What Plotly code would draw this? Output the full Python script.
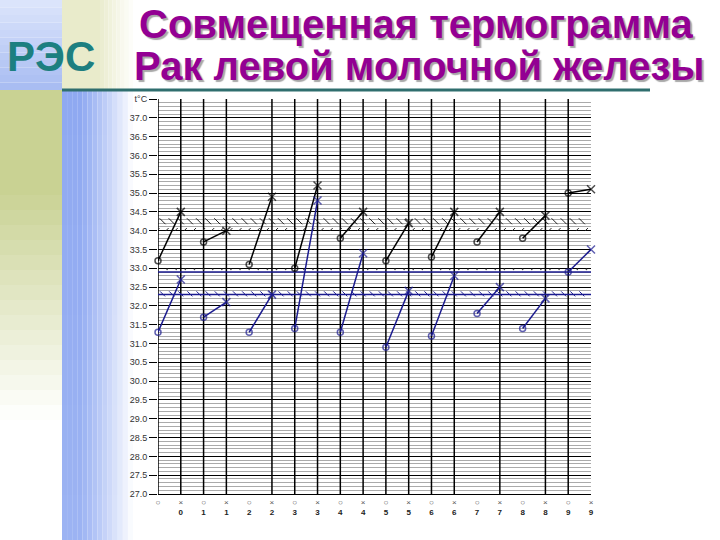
import plotly.graph_objects as go
import numpy as np

# ---------------- data ----------------
pair_labels = ["0", "1", "2", "3", "4", "5", "6", "7", "8", "9"]
black_before = [33.2, 33.7, 33.1, 33.0, 33.8, 33.2, 33.3, 33.7, 33.8, 35.0]
black_after = [34.5, 34.0, 34.9, 35.2, 34.5, 34.2, 34.5, 34.5, 34.4, 35.1]
blue_before = [31.3, 31.7, 31.3, 31.4, 31.3, 30.9, 31.2, 31.8, 31.4, 32.9]
blue_after = [32.7, 32.1, 32.3, 34.8, 33.4, 32.4, 32.8, 32.5, 32.2, 33.5]

black_norm = 34.0
black_hatch = 34.25
blue_norm = 32.9
blue_hatch = 32.3

y_min, y_max = 27.0, 37.5
vgrid_cols = [0, 1, 2, 3, 5, 6, 7, 8, 9, 10, 11, 12, 13, 15, 17, 18]

title1 = "Совмещенная термограмма"
title2 = "Рак левой молочной железы"

# ---------------- layout geometry ----------------
W, H = 720, 540
L, R, T, B = 158, 591, 99, 494


def px_x(p):
    return (p - L) / (R - L)


def px_y(p):
    return (B - p) / (B - T)


BLACK = "#000000"
BLUE = "#1b1b8f"

fig = go.Figure()


def pair_series(before, after):
    xs, ys = [], []
    for i, (a, b) in enumerate(zip(before, after)):
        xs += [2 * i, 2 * i + 1, None]
        ys += [a, b, None]
    return xs, ys


def marker_symbols(before):
    syms = []
    for _ in before:
        syms += ["circle-open", "x-thin-open", "circle-open"]
    return syms


# hatch decorations on reference lines
hx = np.arange(-0.2, 19.0, 0.4)
fig.add_trace(go.Scatter(x=hx, y=[black_hatch] * len(hx), mode="markers",
                         marker=dict(symbol="line-nw-open", size=6, color="#222",
                                     line=dict(color="#222", width=1)),
                         hoverinfo="skip", showlegend=False))
fig.add_trace(go.Scatter(x=hx + 0.2, y=[black_norm + 0.03] * len(hx), mode="markers",
                         marker=dict(symbol="line-ne-open", size=3, color="#222",
                                     line=dict(color="#222", width=1)),
                         hoverinfo="skip", showlegend=False))
fig.add_trace(go.Scatter(x=hx, y=[blue_hatch + 0.02] * len(hx), mode="markers",
                         marker=dict(symbol="line-nw-open", size=5, color=BLUE,
                                     line=dict(color=BLUE, width=1)),
                         hoverinfo="skip", showlegend=False))
fig.add_trace(go.Scatter(x=hx + 0.2, y=[blue_norm + 0.07] * len(hx), mode="markers",
                         marker=dict(symbol="circle", size=1.6, color="#444"),
                         hoverinfo="skip", showlegend=False))

for before, after, color in [(black_before, black_after, BLACK), (blue_before, blue_after, BLUE)]:
    xs, ys = pair_series(before, after)
    fig.add_trace(go.Scatter(
        x=xs, y=ys, mode="lines+markers",
        line=dict(color=color, width=1.5),
        marker=dict(symbol=marker_symbols(before), size=[6, 8, 6] * len(before),
                    color=color, line=dict(color=color, width=1.5)),
        cliponaxis=False, showlegend=False, hoverinfo="skip"))

# vertical grid lines
shapes = []
for c in vgrid_cols:
    shapes.append(dict(type="line", xref="x", yref="y", x0=c, x1=c, y0=y_min, y1=y_max,
                       line=dict(color="black", width=1.5), layer="between"))
# reference lines
shapes.append(dict(type="line", xref="x", yref="y", x0=0, x1=19, y0=blue_norm, y1=blue_norm,
                   line=dict(color=BLUE, width=1.5), layer="between"))
shapes.append(dict(type="line", xref="x", yref="y", x0=0, x1=19, y0=blue_hatch, y1=blue_hatch,
                   line=dict(color=BLUE, width=1.5), layer="between"))


def hexmix(c1, c2, t):
    a = [int(c1[i:i + 2], 16) for i in (1, 3, 5)]
    b = [int(c2[i:i + 2], 16) for i in (1, 3, 5)]
    m = [round(a[k] + (b[k] - a[k]) * t) for k in range(3)]
    return "#%02x%02x%02x" % tuple(m)


# top-left blue block
n = 12
for i in range(n):
    y0 = i * 90 / n
    y1 = (i + 1) * 90 / n
    shapes.append(dict(type="rect", xref="paper", yref="paper", x0=px_x(0), x1=px_x(62),
                       y0=px_y(y1), y1=px_y(y0), line=dict(width=0),
                       fillcolor=hexmix("#dbe4fb", "#a9bdf2", i / (n - 1)), layer="below"))
# top pale green block
shapes.append(dict(type="rect", xref="paper", yref="paper", x0=px_x(62), x1=px_x(100),
                   y0=px_y(90), y1=px_y(0), line=dict(width=0), fillcolor="#e9ebcb", layer="below"))
for i in range(8):
    xa = 100 + i * 33 / 8
    xb = 100 + (i + 1) * 33 / 8
    shapes.append(dict(type="rect", xref="paper", yref="paper", x0=px_x(xa), x1=px_x(xb),
                       y0=px_y(90), y1=px_y(0), line=dict(width=0),
                       fillcolor=hexmix("#e9ebcb", "#ffffff", (i + 1) / 9), layer="below"))
# left green-yellow column fading to white
n = 30
for i in range(n):
    y0 = 90 + i * 450 / n
    y1 = 90 + (i + 1) * 450 / n
    ym = (y0 + y1) / 2
    t = 0 if ym < 190 else min(1, (ym - 190) / 230)
    shapes.append(dict(type="rect", xref="paper", yref="paper", x0=px_x(0), x1=px_x(62),
                       y0=px_y(y1), y1=px_y(y0), line=dict(width=0),
                       fillcolor=hexmix("#c9d293", "#ffffff", t), layer="below"))
# blue column with horizontal fade
nx, ny = 14, 10
for i in range(nx):
    xa = 62 + i * 71 / nx
    xb = 62 + (i + 1) * 71 / nx
    tx = (i + 0.5) / nx
    for j in range(ny):
        y0 = 90 + j * 450 / ny
        y1 = 90 + (j + 1) * 450 / ny
        ty = (j + 0.5) / ny
        base = hexmix("#8ea8f1", "#b9c9f6", 0.35 * ty)
        t = max(0, (tx - 0.25) / 0.75) ** 1.2
        shapes.append(dict(type="rect", xref="paper", yref="paper", x0=px_x(xa), x1=px_x(xb),
                           y0=px_y(y1), y1=px_y(y0), line=dict(width=0),
                           fillcolor=hexmix(base, "#ffffff", t), layer="below"))
# teal rule under the title
shapes.append(dict(type="line", xref="paper", yref="paper", x0=px_x(62), x1=px_x(650),
                   y0=px_y(90), y1=px_y(90), line=dict(color="#2f6e6e", width=3), layer="above"))

annotations = [
    dict(text="<b>" + title1 + "</b>", xref="paper", yref="paper", x=px_x(137), y=px_y(24),
         xanchor="left", yanchor="middle", showarrow=False,
         font=dict(family="Liberation Sans, Arial", size=40, color="#930093",
                   shadow="2px 2px 1px #a8a8a8")),
    dict(text="<b>" + title2 + "</b>", xref="paper", yref="paper", x=px_x(132), y=px_y(66),
         xanchor="left", yanchor="middle", showarrow=False,
         font=dict(family="Liberation Sans, Arial", size=40, color="#930093",
                   shadow="2px 2px 1px #a8a8a8")),
    dict(text="<b>РЭС</b>", xref="paper", yref="paper", x=px_x(51), y=px_y(56),
         xanchor="center", yanchor="middle", showarrow=False,
         font=dict(family="Liberation Sans, Arial", size=42, color="#1d7f80")),
]

# tick labels
tickvals = list(range(20))
ticktext = []
for i, lab in enumerate(pair_labels):
    first = " " if i == 0 else "<b>" + lab + "</b>"
    ticktext.append("<span style='color:#555'>○</span><br>" + first)
    ticktext.append("<span style='color:#555'>×</span><br><b>" + lab + "</b>")

yvals = [round(y_min + 0.5 * k, 1) for k in range(22)]
ytext = ["%.1f" % v for v in yvals[:-1]] + ["t°C"]

fig.update_layout(
    width=W, height=H,
    margin=dict(l=L, r=W - R, t=T, b=H - B, pad=0),
    paper_bgcolor="white", plot_bgcolor="white",
    shapes=shapes, annotations=annotations,
    xaxis=dict(range=[0, 19], tickvals=tickvals, ticktext=ticktext, showgrid=False,
               zeroline=False, showline=True, linecolor="black", linewidth=1, ticks="",
               tickfont=dict(family="Liberation Sans, Arial", size=8, color="#222")),
    yaxis=dict(range=[y_min, y_max], tickvals=yvals, ticktext=ytext, showgrid=True,
               gridcolor="black", gridwidth=1, zeroline=False, showline=False,
               ticks="outside", ticklen=8, tickcolor="black", tickwidth=1,
               tickfont=dict(family="Liberation Sans, Arial", size=9, color="#333"),
               minor=dict(dtick=0.1, tick0=27, showgrid=True, gridcolor="#aaaaaa", gridwidth=1,
                          ticks="")),
    font=dict(family="Liberation Sans, Arial"),
)

fig.write_html("out.html", config={"displayModeBar": False},
               post_script="document.body.style.margin='0px';")
